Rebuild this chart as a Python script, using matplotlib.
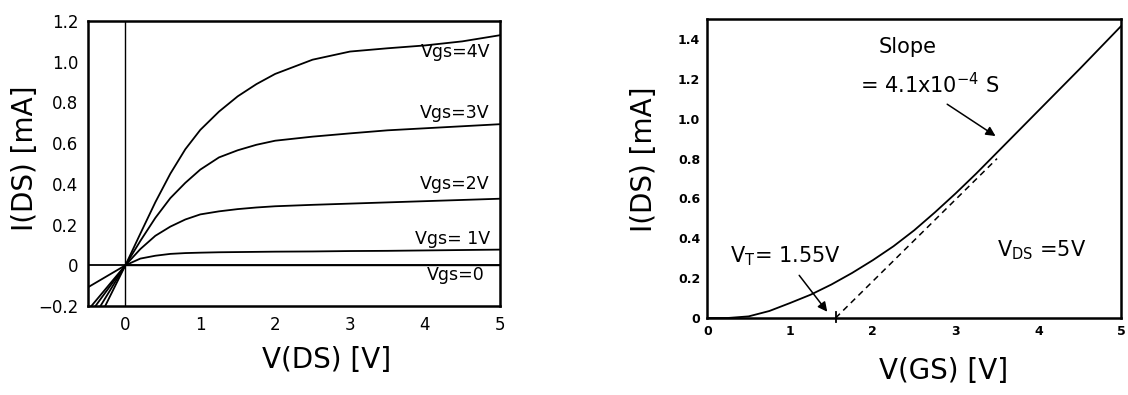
import matplotlib
matplotlib.use("Agg")
import matplotlib.pyplot as plt
import numpy as np

# Curvas I(DS) vs V(DS) para cada Vgs (mA)
vds = [-0.5, 0, 0.2, 0.4, 0.6, 0.8, 1.0, 1.25, 1.5, 1.75, 2.0, 2.5, 3.0, 3.5, 4.0, 4.5, 5.0]
ids_vgs4 = [-0.37, 0, 0.156, 0.31, 0.45, 0.57, 0.665, 0.755, 0.83, 0.89, 0.94,
            1.01, 1.05, 1.066, 1.08, 1.10, 1.13]
ids_vgs3 = [-0.30, 0, 0.12, 0.233, 0.33, 0.405, 0.47, 0.53, 0.565, 0.592, 0.612,
            0.632, 0.648, 0.663, 0.673, 0.683, 0.693]
ids_vgs2 = [-0.25, 0, 0.08, 0.145, 0.19, 0.225, 0.25, 0.265, 0.276, 0.284, 0.29,
            0.297, 0.303, 0.309, 0.315, 0.321, 0.327]
ids_vgs1 = [-0.22, 0, 0.033, 0.047, 0.056, 0.06, 0.062, 0.064, 0.065, 0.066, 0.067,
            0.068, 0.07, 0.071, 0.073, 0.075, 0.077]
ids_vgs0 = [-0.108, 0, 0, 0, 0, 0, 0, 0, 0, 0, 0, 0, 0, 0, 0, 0, 0]
curvas = [ids_vgs4, ids_vgs3, ids_vgs2, ids_vgs1, ids_vgs0]
etiquetas = ["Vgs=4V", "Vgs=3V", "Vgs=2V", "Vgs= 1V", "Vgs=0"]
pos_etiq = [1.05, 0.75, 0.40, 0.13, -0.05]

# Curva de transferencia I(DS) vs V(GS) con VDS = 5V
vgs = [0, 0.25, 0.5, 0.75, 1.0, 1.25, 1.5, 1.75, 2.0, 2.25, 2.5, 2.75, 3.0, 3.25,
       3.5, 4.0, 4.5, 5.0]
ids_vgs = [0, 0, 0.008, 0.035, 0.075, 0.117, 0.168, 0.226, 0.29, 0.36, 0.44, 0.53,
           0.625, 0.725, 0.83, 1.04, 1.25, 1.465]
vt = 1.55
pendiente = 0.41  # mA/V  (4.1x10^-4 S)
v_tangente = 3.5

plt.rcParams['font.family'] = 'DejaVu Sans'
fig = plt.figure(figsize=(11.28, 3.95), dpi=100)
ax1 = fig.add_axes([0.078, 0.2253, 0.365, 0.7215])
ax2 = fig.add_axes([0.627, 0.195, 0.367, 0.757])

# ---- grafico izquierdo
for c in curvas:
    ax1.plot(vds, c, color="black", lw=1.3)
ax1.axhline(0, color="black", lw=1.3)
ax1.axvline(0, color="black", lw=1.0)
for txt, y in zip(etiquetas, pos_etiq):
    x = 4.8 if txt == "Vgs=0" else 4.87
    ax1.text(x, y, txt, ha="right", va="center", fontsize=12.5)
ax1.set_xlim(-0.5, 5)
ax1.set_ylim(-0.2, 1.2)
ax1.set_xticks([0, 1, 2, 3, 4, 5])
ax1.set_yticks([-0.2, 0, 0.2, 0.4, 0.6, 0.8, 1.0, 1.2])
ax1.set_yticklabels(["\u22120.2", "0", "0.2", "0.4", "0.6", "0.8", "1.0", "1.2"])
ax1.tick_params(length=0, labelsize=12, pad=7)
ax1.set_xlabel("V(DS) [V]", fontsize=20)
ax1.set_ylabel("I(DS) [mA]", fontsize=20)
ax1.xaxis.set_label_coords(0.58, -0.14)
ax1.yaxis.set_label_coords(-0.12, 0.52)
for s in ax1.spines.values():
    s.set_linewidth(1.8)

# ---- grafico derecho
ax2.plot(vgs, ids_vgs, color="black", lw=1.3)
ax2.plot([vt, v_tangente], [0, pendiente * (v_tangente - vt)], color="black",
         lw=1.1, ls=(0, (4, 3)))
ax2.plot([vt, vt], [-0.02, 0.03], color="black", lw=1.3, clip_on=False)
ax2.annotate("", xy=(3.51, 0.905), xytext=(2.87, 1.08),
             arrowprops=dict(arrowstyle="-|>", color="black", lw=1.1,
                             mutation_scale=14))
ax2.annotate("", xy=(1.47, 0.02), xytext=(1.09, 0.225),
             arrowprops=dict(arrowstyle="-|>", color="black", lw=1.1,
                             mutation_scale=14))
ax2.text(2.42, 1.36, "Slope", ha="center", va="center", fontsize=15)
ax2.text(1.85, 1.17, "= 4.1x10$^{\\mathregular{-4}}$ S", ha="left", va="center",
         fontsize=15)
ax2.text(0.28, 0.31, "V$_\\mathregular{T}$= 1.55V", ha="left", va="center",
         fontsize=15)
ax2.text(3.5, 0.34, "V$_\\mathregular{DS}$ =5V", ha="left", va="center",
         fontsize=15)
ax2.set_xlim(0, 5)
ax2.set_ylim(0, 1.5)
ax2.set_xticks([0, 1, 2, 3, 4, 5])
ax2.set_yticks([0, 0.2, 0.4, 0.6, 0.8, 1.0, 1.2, 1.4])
ax2.set_yticklabels(["0", "0.2", "0.4", "0.6", "0.8", "1.0", "1.2", "1.4"])
ax2.tick_params(length=0, labelsize=9, pad=5)
for lab in ax2.get_xticklabels() + ax2.get_yticklabels():
    lab.set_fontweight("bold")
ax2.set_xlabel("V(GS) [V]", fontsize=20)
ax2.set_ylabel("I(DS) [mA]", fontsize=20)
ax2.xaxis.set_label_coords(0.57, -0.13)
ax2.yaxis.set_label_coords(-0.12, 0.53)
for s in ax2.spines.values():
    s.set_linewidth(1.8)

fig.savefig("out.png", dpi=100)
